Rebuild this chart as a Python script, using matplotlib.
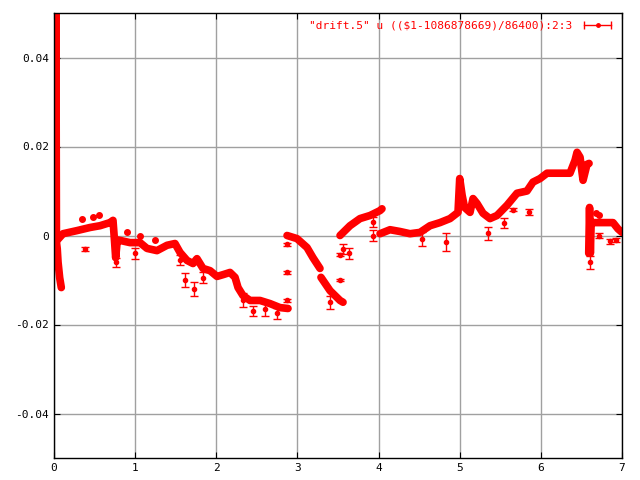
import numpy as np
import matplotlib.pyplot as plt
from matplotlib.lines import Line2D
from matplotlib.legend_handler import HandlerLine2D

# main curve pieces (days since start, drift)
spike_x = [0.012, 0.018, 0.024, 0.03]
spike_y = [-0.001, 0.05, 0.05, -0.001]

dip_x = [0.02, 0.04, 0.05, 0.07, 0.09]
dip_y = [0.0, -0.003, -0.006, -0.0095, -0.0117]

seg1_x = [0.037, 0.111, 0.283, 0.444, 0.567, 0.69, 0.727, 0.745, 0.76, 0.78, 0.813, 0.937,
          1.06, 1.146, 1.269, 1.393, 1.491, 1.553, 1.639, 1.713, 1.762, 1.836, 1.923, 2.009,
          2.083, 2.169, 2.231, 2.268, 2.329, 2.416, 2.539, 2.662, 2.785, 2.884]
seg1_y = [-0.0011, 0.0004, 0.0011, 0.0018, 0.0022, 0.0029, 0.0034, -0.001, -0.005, -0.001,
          -0.0011, -0.0016, -0.0016, -0.0029, -0.0034, -0.0022, -0.0018, -0.0038, -0.0056,
          -0.0063, -0.0052, -0.0074, -0.0079, -0.0092, -0.0088, -0.0083, -0.0094, -0.0117,
          -0.0135, -0.0146, -0.0146, -0.0153, -0.0162, -0.0164]

seg2_x = [2.872, 2.995, 3.118, 3.192, 3.278]
seg2_y = [0.0, -0.0007, -0.0027, -0.005, -0.0074]

seg3_x = [3.29, 3.402, 3.525, 3.562]
seg3_y = [-0.0094, -0.0124, -0.0146, -0.015]

seg4_x = [3.525, 3.648, 3.771, 3.895, 4.018, 4.042]
seg4_y = [0.0, 0.0022, 0.0038, 0.0045, 0.0056, 0.006]

seg5_x = [4.018, 4.141, 4.264, 4.387, 4.511, 4.634, 4.757, 4.88, 4.979, 5.0, 5.03, 5.06,
          5.127, 5.164, 5.213, 5.287, 5.373, 5.46, 5.583, 5.706, 5.829, 5.903, 5.99, 6.076,
          6.199, 6.359, 6.421, 6.446, 6.483, 6.52, 6.569, 6.594]
seg5_y = [0.0004, 0.0013, 0.0009, 0.0004, 0.0007, 0.0022, 0.0029, 0.0038, 0.0052, 0.0128,
          0.009, 0.0063, 0.0052, 0.0083, 0.0072, 0.005, 0.0038, 0.0045, 0.0068, 0.0095,
          0.010, 0.012, 0.0128, 0.014, 0.014, 0.014, 0.0169, 0.0187, 0.0176, 0.0124, 0.016,
          0.0162]

seg6_x = [6.59, 6.6, 6.61, 6.62, 6.64, 6.692, 6.766, 6.889, 6.95, 7.0]
seg6_y = [-0.004, 0.0063, -0.004, 0.003, 0.0029, 0.0029, 0.0029, 0.0029, 0.0015, 0.0007]

# scattered points with error bars
pts_x = [0.382, 0.76, 1.0, 1.55, 1.62, 1.72, 1.84, 2.33, 2.45, 2.6, 2.75, 2.87, 2.87, 2.87,
         3.40, 3.525, 3.525, 3.56, 3.64, 3.93, 3.93, 4.53, 4.83, 5.35, 5.54, 5.66, 5.85,
         6.6, 6.72, 6.85, 6.93]
pts_y = [-0.003, -0.006, -0.004, -0.0055, -0.010, -0.012, -0.0095, -0.0145, -0.017, -0.0165,
         -0.0175, -0.002, -0.0083, -0.0146, -0.015, -0.0043, -0.010, -0.003, -0.004, 0.003,
         0.0, -0.0008, -0.0015, 0.0005, 0.0028, 0.0058, 0.0052, -0.006, 0.0, -0.0013, -0.001]
pts_err = [0.0005, 0.001, 0.0012, 0.0012, 0.0015, 0.0015, 0.0012, 0.0015, 0.0012, 0.0015,
           0.0012, 0.0003, 0.0003, 0.0003, 0.0015, 0.0003, 0.0003, 0.0012, 0.0012, 0.0012,
           0.0012, 0.0015, 0.002, 0.0015, 0.0012, 0.0004, 0.0007, 0.0015, 0.0006, 0.0005,
           0.0005]

# extra single dots
dot_x = [0.35, 0.48, 0.55, 0.9, 1.06, 1.25, 6.68, 6.72]
dot_y = [0.0038, 0.0042, 0.0045, 0.0007, 0.0, -0.001, 0.005, 0.0045]

red = '#ff0000'
fig = plt.figure(figsize=(6.4, 4.8), dpi=100)
ax = fig.add_axes([54 / 640, 22 / 480, 568 / 640, 445 / 480])

for sx, sy in [(spike_x, spike_y), (dip_x, dip_y), (seg1_x, seg1_y), (seg2_x, seg2_y),
               (seg3_x, seg3_y), (seg4_x, seg4_y), (seg5_x, seg5_y), (seg6_x, seg6_y)]:
    ax.plot(sx, sy, color=red, lw=5.5, solid_capstyle='round', solid_joinstyle='round')

ax.errorbar(pts_x, pts_y, yerr=pts_err, fmt='o', ms=3, color=red, ecolor=red,
            elinewidth=1, capsize=3)
ax.plot(dot_x, dot_y, 'o', ms=4, color=red)

ax.set_xlim(0, 7)
ax.set_ylim(-0.05, 0.05)
ax.set_xticks(range(8))
ax.set_yticks([-0.04, -0.02, 0, 0.02, 0.04])
ax.set_yticklabels(['-0.04', '-0.02', '0', '0.02', '0.04'])
ax.grid(True, color='#a0a0a0', lw=1)
ax.set_axisbelow(True)
ax.tick_params(direction='in', top=True, right=True, length=4, labelsize=8)
for lab in ax.get_xticklabels() + ax.get_yticklabels():
    lab.set_family('DejaVu Sans Mono')
for s in ax.spines.values():
    s.set_linewidth(1)

bar = Line2D([], [], color=red, lw=1, marker='|', ms=6)
dot = Line2D([], [], color=red, lw=0, marker='o', ms=2.5)
leg = ax.legend([(bar, dot)], ['"drift.5" u (($1-1086878669)/86400):2:3'],
                loc='upper right', frameon=False, markerfirst=False,
                prop={'family': 'DejaVu Sans Mono', 'size': 8}, labelcolor=red,
                handlelength=3, borderaxespad=0.3,
                handler_map={bar: HandlerLine2D(numpoints=2), dot: HandlerLine2D(numpoints=1)})

fig.savefig('out.png', dpi=100)
